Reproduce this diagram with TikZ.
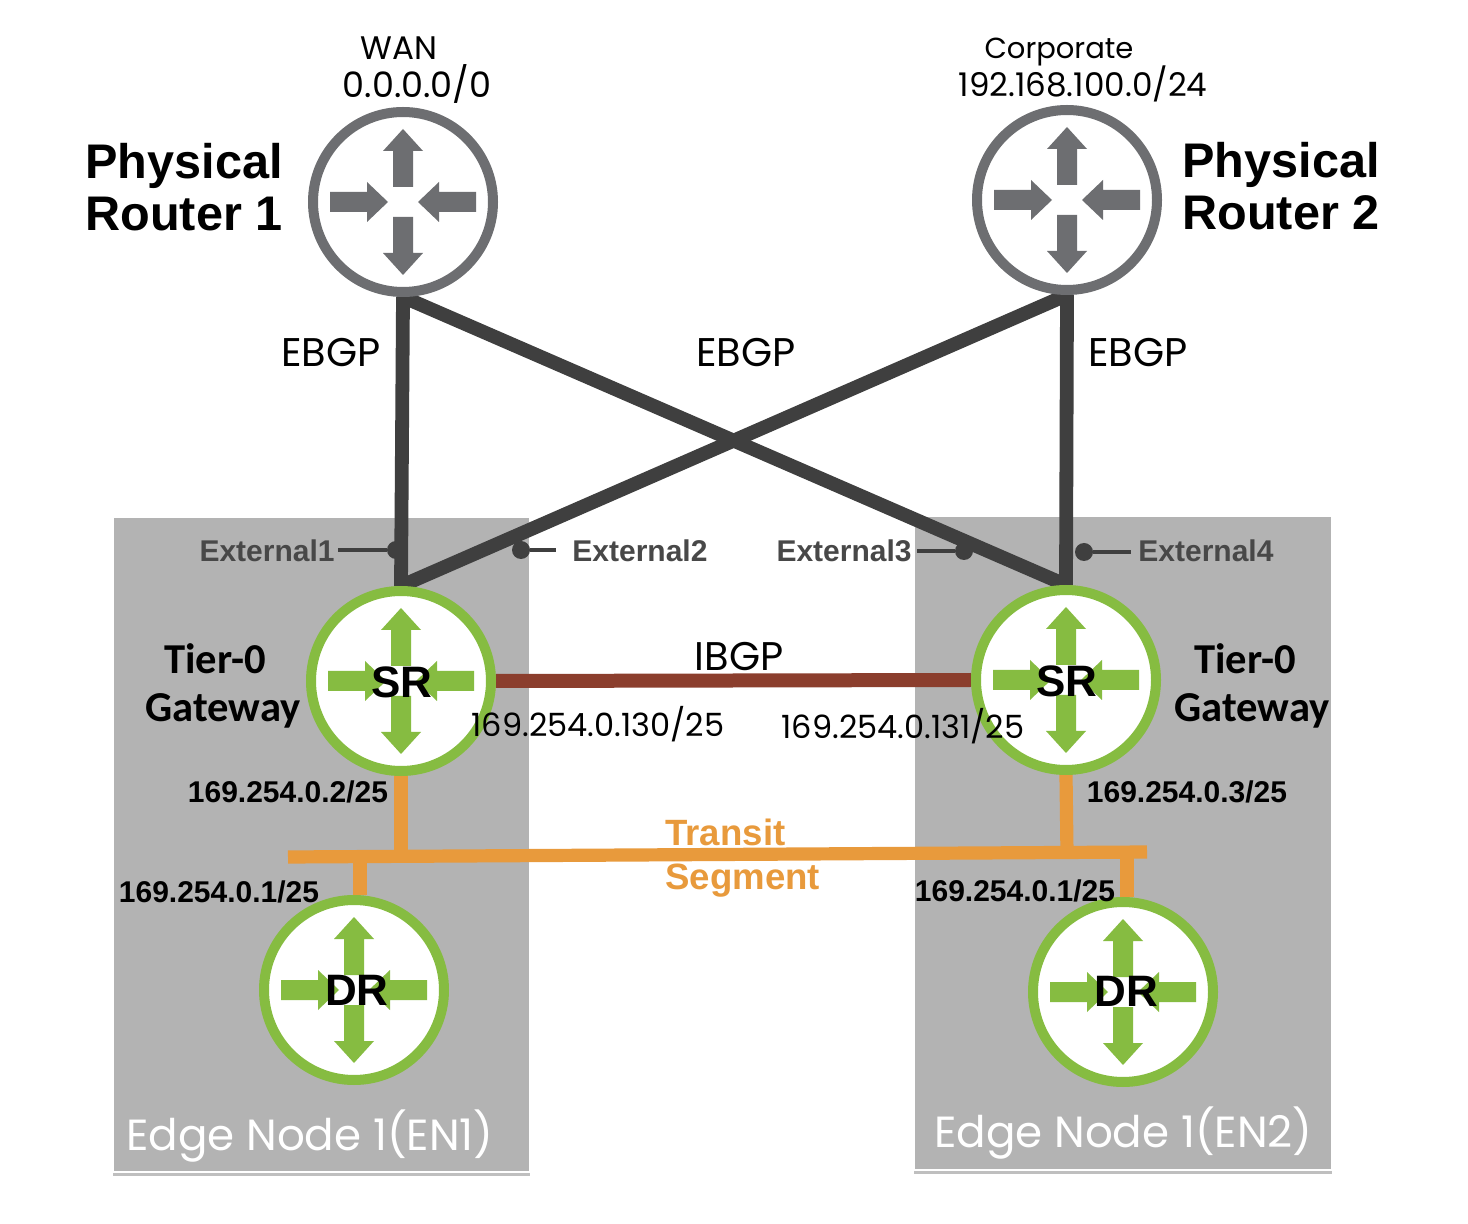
\documentclass[tikz,border=0pt]{standalone}
\usepackage{fontspec}
\setmainfont{Liberation Sans}
\newfontfamily\labelfont{Poppins}
\newfontfamily\gatewayfont{Carlito}
\usetikzlibrary{shadows}

\definecolor{wirecolor}{HTML}{3F3F3F}
\definecolor{routergrey}{HTML}{6D6E71}
\definecolor{gatewaygreen}{HTML}{86BC41}
\definecolor{transitorange}{HTML}{E89A3C}
\definecolor{ibgpbrown}{HTML}{8B3E2D}
\definecolor{edgegrey}{HTML}{B3B3B3}
\definecolor{extgrey}{HTML}{484848}

\pgfdeclarelayer{boxes}
\pgfdeclarelayer{wires}
\pgfsetlayers{boxes,wires,main}

\tikzset{
  routershape/.style={circle, fill=white, line width=5pt, minimum size=90pt, inner sep=0pt},
  physrouter/.style={routershape, draw=routergrey},
  gwrouter/.style={routershape, draw=gatewaygreen, drop shadow={shadow xshift=0.3pt, shadow yshift=-1.5pt, opacity=0.4}},
  edgebox/.style={draw=white, line width=0.7pt, fill=edgegrey, anchor=north west, inner sep=0pt, outer sep=0pt, drop shadow={shadow xshift=0pt, shadow yshift=-2pt, opacity=0.5}},
  wanwire/.style={draw=wirecolor, line width=6.9pt},
  ibgpwire/.style={draw=ibgpbrown, line width=7pt},
  transitwire/.style={draw=transitorange, line width=6.6pt},
  extwire/.style={draw=wirecolor, line width=2.2pt},
  extdot/.style={circle, fill=wirecolor, minimum size=9pt, inner sep=0pt},
  extlabel/.style={font=\fontsize{15}{15}\selectfont\bfseries, text=extgrey, inner sep=0pt},
  ipbold/.style={font=\fontsize{15}{15}\selectfont\bfseries, inner sep=0pt},
  iplight/.style={font=\labelfont\fontsize{16}{16}\selectfont, inner sep=0pt},
  bgplabel/.style={font=\labelfont\fontsize{20}{20}\selectfont, inner sep=0pt},
  toplabel/.style={font=\labelfont\fontsize{#1}{#1}\selectfont, inner sep=0pt},
  routertitle/.style={font=\fontsize{24.3}{26}\selectfont\bfseries, align=left, inner sep=0pt},
  gwtitle/.style={font=\gatewayfont\fontsize{21.3}{21.3}\selectfont\bfseries, inner sep=0pt},
  iconlabel/.style={font=\fontsize{22}{22}\selectfont\bfseries, inner sep=0pt},
  transitlabel/.style={font=\fontsize{18.3}{22}\selectfont\bfseries, text=transitorange, align=left, inner sep=0pt},
  edgelabel/.style={font=\labelfont\fontsize{21.8}{21.8}\selectfont, text=white, inner sep=0pt},
  pics/routerarrows/.style={code={
    \foreach \a in {0,180} {
      \fill[#1, rotate=\a] (-5pt,-7.5pt) -- (-5pt,-25.5pt) -- (-10pt,-25.5pt) -- (0,-36.5pt) -- (10pt,-25.5pt) -- (5pt,-25.5pt) -- (5pt,-7.5pt) -- cycle;
      \fill[#1, rotate=\a] (-36.5pt,-5pt) -- (-18pt,-5pt) -- (-18pt,-10pt) -- (-7.5pt,0) -- (-18pt,10pt) -- (-18pt,5pt) -- (-36.5pt,5pt) -- cycle;
    }
  }}
}

\begin{document}
\begin{tikzpicture}[x=0.5pt, y=-0.5pt]

  \useasboundingbox (0,0) rectangle (1468,1224);

  % edge node boxes
  \begin{pgfonlayer}{boxes}
    \node (EN1) [edgebox, minimum width=208.5pt, minimum height=327.5pt] at (113,517) {};
    \node (EN2) [edgebox, minimum width=209pt, minimum height=327pt] at (914,516) {};
  \end{pgfonlayer}

  % routers
  \node (PR1) [physrouter] at (403,202) {};
  \node (PR2) [physrouter] at (1067,200) {};
  \node (SR1) [gwrouter] at (401,681) {};
  \node (SR2) [gwrouter] at (1066,680) {};
  \node (DR1) [gwrouter] at (354,990) {};
  \node (DR2) [gwrouter] at (1123,992) {};

  \pic at (PR1) {routerarrows=routergrey};
  \pic at (PR2) {routerarrows=routergrey};
  \pic at (SR1) {routerarrows=gatewaygreen};
  \pic at (SR2) {routerarrows=gatewaygreen};
  \pic at (DR1) {routerarrows=gatewaygreen};
  \pic at (DR2) {routerarrows=gatewaygreen};

  \node (SR1text) [iconlabel] at (402,682) {SR};
  \node (SR2text) [iconlabel] at (1067,681) {SR};
  \node (DR1text) [iconlabel] at (357,990) {DR};
  \node (DR2text) [iconlabel] at (1126,991) {DR};

  % transit tap points
  \coordinate (barL) at (288,857);
  \coordinate (barR) at (1147,852);
  \coordinate (tap1) at (360,857);
  \coordinate (tap2) at (401,857);
  \coordinate (tap3) at (1067,853);
  \coordinate (tap4) at (1127,853);

  \begin{pgfonlayer}{wires}
    \draw[wanwire] (PR1.south) -- (SR1.north);
    \draw[wanwire] (PR1.south) -- (SR2.north);
    \draw[wanwire] (PR2.south) -- (SR1.north);
    \draw[wanwire] (PR2.south) -- (SR2.north);
    \draw[ibgpwire] (SR1.east) -- (SR2.west);
    \draw[transitwire] (barL) -- (barR);
    \draw[transitwire] (SR1.south) -- (tap2);
    \draw[transitwire] (SR2.south) -- (tap3);
    \draw[transitwire] (tap1) -- (tap1 |- DR1.north);
    \draw[transitwire] (tap4) -- (tap4 |- DR2.north);
  \end{pgfonlayer}

  % external interfaces
  \node (ext1) [extdot] at (396,550) {};
  \node (ext2) [extdot] at (521,550) {};
  \node (ext3) [extdot] at (964,551) {};
  \node (ext4) [extdot] at (1084,552) {};
  \node (ext1text) [extlabel, anchor=east] at (335,551) {External1};
  \node (ext2text) [extlabel, anchor=west] at (572,551) {External2};
  \node (ext3text) [extlabel, anchor=east] at (912,551) {External3};
  \node (ext4text) [extlabel, anchor=west] at (1138,551) {External4};
  \draw[extwire] (ext1) -- +(-58,0);
  \draw[extwire] (ext2) -- +(35,0);
  \draw[extwire] (ext3) -- +(-47,0);
  \draw[extwire] (ext4) -- +(47,0);

  % texts
  \node (wan) [toplabel=16.3] at (399,48) {WAN};
  \node (wanip) [toplabel=17.5] at (417,84) {0.0.0.0/0};
  \node (corp) [toplabel=14.5] at (1059,52) {Corporate};
  \node (corpip) [toplabel=16.3] at (1083,84) {192.168.100.0/24};
  \node (PR1title) [routertitle, anchor=west] at (85,187) {Physical\\Router 1};
  \node (PR2title) [routertitle, anchor=west] at (1182,186) {Physical\\Router 2};
  \node (ebgp1) [bgplabel] at (331,353) {EBGP};
  \node (ebgp2) [bgplabel] at (746,353) {EBGP};
  \node (ebgp3) [bgplabel] at (1138,353) {EBGP};
  \node (ibgp) [bgplabel] at (739,657) {IBGP};
  \node (GW1tier) [gwtitle] at (215,659) {Tier-0};
  \node (GW1title) [gwtitle] at (223,711) {Gateway};
  \node (GW2tier) [gwtitle] at (1245,659) {Tier-0};
  \node (GW2title) [gwtitle] at (1252,711) {Gateway};
  \node (ip130) [iplight] at (598,724) {169.254.0.130/25};
  \node (ip131) [iplight] at (903,726) {169.254.0.131/25};
  \node (ip2) [ipbold] at (288,792) {169.254.0.2/25};
  \node (ip3) [ipbold] at (1187,792) {169.254.0.3/25};
  \node (ip1a) [ipbold] at (219,892) {169.254.0.1/25};
  \node (ip1b) [ipbold] at (1015,891) {169.254.0.1/25};
  \node (transit) [transitlabel, anchor=west] at (665,858) {Transit\\Segment};
  \node (EN1text) [edgelabel, anchor=west] at (126,1136) {Edge Node 1(EN1)};
  \node (EN2text) [edgelabel, anchor=west] at (934,1133) {Edge Node 1(EN2)};

\end{tikzpicture}
\end{document}
